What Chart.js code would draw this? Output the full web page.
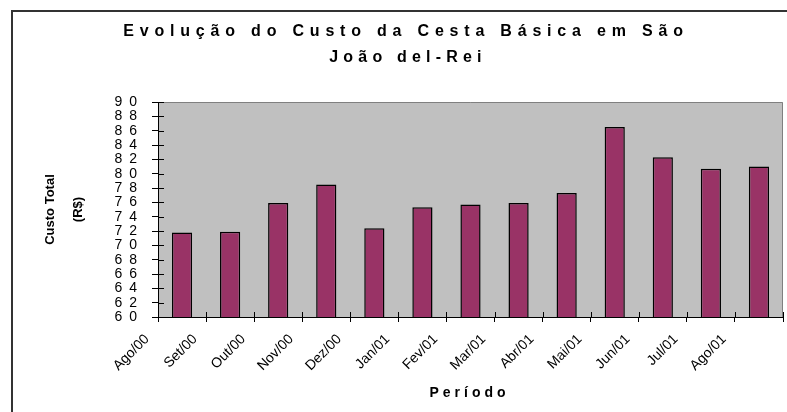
<!DOCTYPE html>
<html>
<head>
<meta charset="utf-8">
<script src="https://cdn.jsdelivr.net/npm/chart.js@4"></script>
<style>
  html, body { margin: 0; padding: 0; background: #fff; }
</style>
</head>
<body>
<canvas id="myChart" width="787" height="412"></canvas>
<script>
const titulo = ['Evolução do Custo da Cesta Básica em São', 'João del-Rei']
const tituloX = 'Período'
const tituloY = ['Custo Total', '(R$)']

const periodos = ['Ago/00', 'Set/00', 'Out/00', 'Nov/00', 'Dez/00', 'Jan/01', 'Fev/01',
  'Mar/01', 'Abr/01', 'Mai/01', 'Jun/01', 'Jul/01', 'Ago/01']
const custos = [71.8, 71.9, 75.9, 78.5, 72.4, 75.3, 75.7, 75.9, 77.3, 86.5, 82.3, 80.7, 81.0]

const yMin = 60
const yMax = 90
const yPasso = 2

const fonte = 'Arial, "Liberation Sans", sans-serif'

// fundo cinza, moldura, marcas cruzando os eixos e textos espaçados
const moldura = {
  id: 'moldura',
  beforeDraw(chart) {
    const { ctx, chartArea: a } = chart
    ctx.save()
    ctx.fillStyle = '#fff'
    ctx.fillRect(0, 0, chart.width, chart.height)
    ctx.strokeStyle = '#333'
    ctx.lineWidth = 2
    ctx.strokeRect(12, 11, chart.width + 20, chart.height + 20)
    ctx.fillStyle = '#c0c0c0'
    ctx.fillRect(a.left, a.top, a.right - a.left, a.bottom - a.top)
    ctx.strokeStyle = '#808080'
    ctx.lineWidth = 1
    ctx.beginPath()
    ctx.moveTo(a.left, a.top + 0.5)
    ctx.lineTo(a.right - 0.5, a.top + 0.5)
    ctx.lineTo(a.right - 0.5, a.bottom)
    ctx.stroke()
    ctx.restore()
  },
  afterDraw(chart) {
    const { ctx, chartArea: a, scales } = chart
    ctx.save()
    ctx.strokeStyle = '#000'
    ctx.lineWidth = 1
    ctx.beginPath()
    scales.y.ticks.forEach(t => {
      const y = Math.round(scales.y.getPixelForValue(t.value)) + 0.5
      ctx.moveTo(a.left, y)
      ctx.lineTo(a.left + 6, y)
    })
    for (let i = 0; i <= periodos.length; i++) {
      const x = Math.round(scales.x.getPixelForValue(i - 0.5)) + 0.5
      ctx.moveTo(x, a.bottom)
      ctx.lineTo(x, a.bottom - 5)
    }
    ctx.stroke()

    ctx.fillStyle = '#000'
    ctx.textAlign = 'center'
    ctx.textBaseline = 'middle'
    ctx.font = 'bold 16px ' + fonte
    ctx.letterSpacing = '5.8px'
    ctx.fillText(titulo[0], 403 + 3, 32)
    ctx.letterSpacing = '5.2px'
    ctx.fillText(titulo[1], 405 + 3, 58)

    ctx.font = 'bold 14px ' + fonte
    ctx.letterSpacing = '4px'
    ctx.fillText(tituloX, (a.left + a.right) / 2 - 1, 393)
    ctx.restore()
  }
}

const data = {
  labels: periodos,
  datasets: [
    {
      label: 'Custo Total (R$)',
      data: custos,
      backgroundColor: '#993366',
      borderColor: '#000',
      borderWidth: 1.5,
      barPercentage: 0.42,
      categoryPercentage: 1
    }
  ]
}

const config = {
  type: 'bar',
  data: data,
  options: {
    responsive: false,
    animation: false,
    layout: { padding: { top: 102, right: 4, bottom: 0, left: 0 } },
    plugins: {
      legend: { display: false },
      title: { display: false },
      tooltip: { enabled: false }
    },
    scales: {
      x: {
        afterFit: scale => { scale.height = 95 },
        border: { color: '#000', width: 1 },
        grid: { drawOnChartArea: false, tickLength: 5, color: '#000', offset: true },
        ticks: {
          autoSkip: false,
          minRotation: 45,
          maxRotation: 45,
          labelOffset: -35,
          padding: 9,
          color: '#000',
          font: { family: fonte, size: 14 }
        }
      },
      y: {
        min: yMin,
        max: yMax,
        afterFit: scale => { scale.width = 158 },
        border: { color: '#000', width: 1 },
        grid: { drawOnChartArea: false, tickLength: 6, color: '#000' },
        ticks: {
          autoSkip: false,
          stepSize: yPasso,
          padding: 15,
          color: '#000',
          font: { family: fonte, size: 14, lineHeight: 1 },
          callback: v => String(v).split('').join('\u2002')
        },
        title: {
          display: true,
          text: tituloY,
          color: '#000',
          padding: { top: 36 },
          font: { family: fonte, size: 13, weight: 'bold', lineHeight: 2.15 }
        }
      }
    }
  },
  plugins: [moldura]
}

const myChart = new Chart(document.getElementById('myChart'), config)
</script>
</body>
</html>
